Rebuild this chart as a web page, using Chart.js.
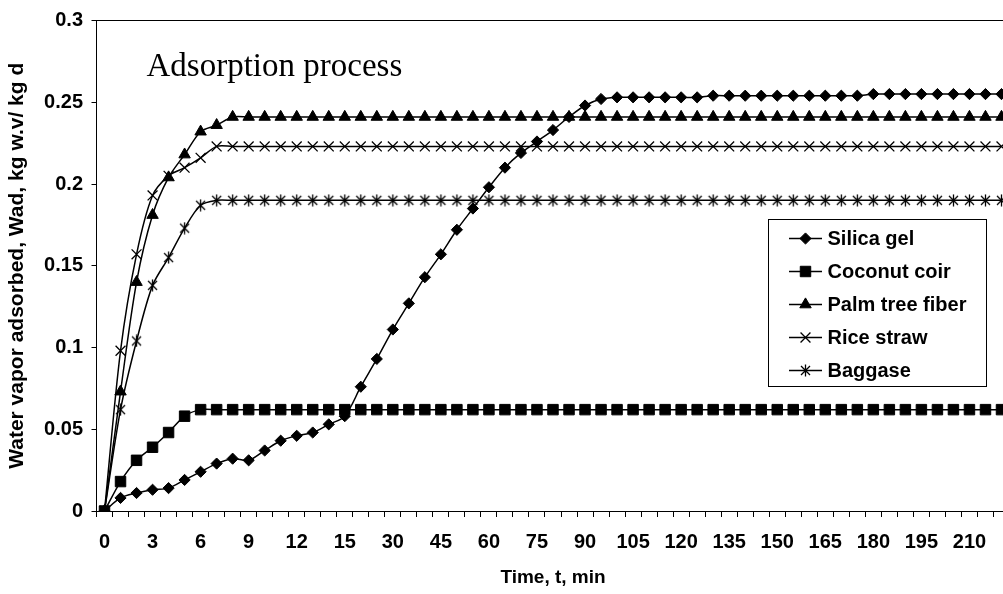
<!DOCTYPE html>
<html>
<head>
<meta charset="utf-8">
<title>Adsorption process</title>
<script src="https://cdn.jsdelivr.net/npm/chart.js@4.4.1/dist/chart.umd.min.js"></script>
<style>
  html, body { margin: 0; padding: 0; background: #fff; overflow: hidden; }
  #wrap { width: 1020px; height: 594px; }
  canvas { display: block; }
</style>
</head>
<body>
<div id="wrap"><canvas id="chart" width="1020" height="594"></canvas></div>
<script>
// Sampling times, min (every minute up to 15, then every 5 minutes)
const times = [
  0, 1, 2, 3, 4, 5, 6, 7, 8, 9, 10, 11, 12, 13, 14, 15,
  20, 25, 30, 35, 40, 45, 50, 55, 60, 65, 70, 75, 80, 85, 90, 95,
  100, 105, 110, 115, 120, 125, 130, 135, 140, 145, 150, 155, 160,
  165, 170, 175, 180, 185, 190, 195, 200, 205, 210, 215, 220
];

// Water vapor adsorbed, kg w.v / kg d
const silicaGel = [
  0, 0.008, 0.011, 0.013, 0.014, 0.019, 0.024, 0.029, 0.032, 0.031, 0.037, 0.043, 0.046, 0.048, 0.053, 0.058,
  0.076, 0.093, 0.111, 0.127, 0.143, 0.157, 0.172, 0.185, 0.198, 0.210, 0.219, 0.226, 0.233, 0.241, 0.248, 0.252,
  0.253, 0.253, 0.253, 0.253, 0.253, 0.253, 0.254, 0.254, 0.254, 0.254, 0.254, 0.254, 0.254,
  0.254, 0.254, 0.254, 0.255, 0.255, 0.255, 0.255, 0.255, 0.255, 0.255, 0.255, 0.255
];
const coconutCoir = [
  0, 0.018, 0.031, 0.039, 0.048, 0.058, 0.062, 0.062, 0.062, 0.062, 0.062, 0.062, 0.062, 0.062, 0.062, 0.062,
  0.062, 0.062, 0.062, 0.062, 0.062, 0.062, 0.062, 0.062, 0.062, 0.062, 0.062, 0.062, 0.062, 0.062, 0.062, 0.062,
  0.062, 0.062, 0.062, 0.062, 0.062, 0.062, 0.062, 0.062, 0.062, 0.062, 0.062, 0.062, 0.062,
  0.062, 0.062, 0.062, 0.062, 0.062, 0.062, 0.062, 0.062, 0.062, 0.062, 0.062, 0.062
];
const palmTreeFiber = [
  0, 0.073, 0.140, 0.181, 0.204, 0.218, 0.232, 0.236, 0.241, 0.241, 0.241, 0.241, 0.241, 0.241, 0.241, 0.241,
  0.241, 0.241, 0.241, 0.241, 0.241, 0.241, 0.241, 0.241, 0.241, 0.241, 0.241, 0.241, 0.241, 0.241, 0.241, 0.241,
  0.241, 0.241, 0.241, 0.241, 0.241, 0.241, 0.241, 0.241, 0.241, 0.241, 0.241, 0.241, 0.241,
  0.241, 0.241, 0.241, 0.241, 0.241, 0.241, 0.241, 0.241, 0.241, 0.241, 0.241, 0.241
];
const riceStraw = [
  0, 0.098, 0.157, 0.193, 0.205, 0.210, 0.216, 0.223, 0.223, 0.223, 0.223, 0.223, 0.223, 0.223, 0.223, 0.223,
  0.223, 0.223, 0.223, 0.223, 0.223, 0.223, 0.223, 0.223, 0.223, 0.223, 0.223, 0.223, 0.223, 0.223, 0.223, 0.223,
  0.223, 0.223, 0.223, 0.223, 0.223, 0.223, 0.223, 0.223, 0.223, 0.223, 0.223, 0.223, 0.223,
  0.223, 0.223, 0.223, 0.223, 0.223, 0.223, 0.223, 0.223, 0.223, 0.223, 0.223, 0.223
];
const baggase = [
  0, 0.062, 0.104, 0.138, 0.155, 0.173, 0.187, 0.190, 0.190, 0.190, 0.190, 0.190, 0.190, 0.190, 0.190, 0.190,
  0.190, 0.190, 0.190, 0.190, 0.190, 0.190, 0.190, 0.190, 0.190, 0.190, 0.190, 0.190, 0.190, 0.190, 0.190, 0.190,
  0.190, 0.190, 0.190, 0.190, 0.190, 0.190, 0.190, 0.190, 0.190, 0.190, 0.190, 0.190, 0.190,
  0.190, 0.190, 0.190, 0.190, 0.190, 0.190, 0.190, 0.190, 0.190, 0.190, 0.190, 0.190
];

const seriesNames = ['Silica gel', 'Coconut coir', 'Palm tree fiber', 'Rice straw', 'Baggase'];
const yTickLabels = ['0', '0.05', '0.1', '0.15', '0.2', '0.25', '0.3'];
const xLabelEvery = 3;

const chartTitle = 'Adsorption process';
const xAxisTitle = 'Time, t, min';
const yAxisTitle = 'Water vapor adsorbed, Wad, kg w.v/ kg d';

const SANS = '"Liberation Sans", Arial, sans-serif';
const SERIF = '"Liberation Serif", "Times New Roman", serif';

// Six-armed asterisk marker (X plus a vertical bar)
function asteriskMarker() {
  const c = document.createElement('canvas');
  c.width = 13; c.height = 13;
  const g = c.getContext('2d');
  g.strokeStyle = '#000';
  g.lineWidth = 1.3;
  g.beginPath();
  g.moveTo(2, 2); g.lineTo(11, 11);
  g.moveTo(11, 2); g.lineTo(2, 11);
  g.moveTo(6.5, 0.5); g.lineTo(6.5, 12.5);
  g.stroke();
  return c;
}

const markerStyles = [
  { pointStyle: 'rectRot', radius: 5.6, borderWidth: 1 },
  { pointStyle: 'rect', radius: 7.4, borderWidth: 1 },
  { pointStyle: 'triangle', radius: 6.6, borderWidth: 1 },
  { pointStyle: 'crossRot', radius: 7, borderWidth: 1.3 },
  { pointStyle: asteriskMarker(), radius: 6, borderWidth: 1 }
];

const seriesValues = [silicaGel, coconutCoir, palmTreeFiber, riceStraw, baggase];

const datasets = seriesValues.map((vals, i) => ({
  label: seriesNames[i],
  data: vals,
  borderColor: '#000',
  backgroundColor: '#000',
  borderWidth: 1.5,
  tension: 0.3,
  fill: false,
  pointStyle: markerStyles[i].pointStyle,
  pointRadius: markerStyles[i].radius,
  pointBorderWidth: markerStyles[i].borderWidth,
  pointBackgroundColor: '#000',
  pointBorderColor: '#000'
}));

// Outline of the plot area (top and right edges)
const plotFrame = {
  id: 'plotFrame',
  afterDraw(chart) {
    const { ctx, chartArea: a } = chart;
    ctx.save();
    ctx.strokeStyle = '#000';
    ctx.lineWidth = 1;
    const l = Math.floor(a.left) + 0.5, t = Math.floor(a.top) + 0.5;
    const r = Math.floor(a.right) + 0.5, b = Math.floor(a.bottom) + 0.5;
    ctx.beginPath();
    ctx.moveTo(l, t); ctx.lineTo(r, t); ctx.lineTo(r, b);
    ctx.stroke();
    ctx.restore();
  }
};

// Caption inside the plot area
const plotCaption = {
  id: 'plotCaption',
  afterDraw(chart) {
    const { ctx, chartArea: a } = chart;
    ctx.save();
    ctx.fillStyle = '#000';
    ctx.font = '33px ' + SERIF;
    ctx.textBaseline = 'alphabetic';
    ctx.textAlign = 'left';
    ctx.fillText(chartTitle, a.left + 50, a.top + 55);
    ctx.restore();
  }
};

// Boxed legend placed inside the plot area
const boxedLegend = {
  id: 'boxedLegend',
  afterDraw(chart) {
    const { ctx } = chart;
    const box = { x: 768.5, y: 219.5, w: 218, h: 167 };
    const rowY0 = 238.5, rowGap = 33;
    ctx.save();
    ctx.fillStyle = '#fff';
    ctx.fillRect(box.x, box.y, box.w, box.h);
    ctx.strokeStyle = '#000';
    ctx.lineWidth = 1;
    ctx.strokeRect(box.x, box.y, box.w, box.h);
    chart.data.datasets.forEach((ds, i) => {
      const y = rowY0 + i * rowGap;
      ctx.strokeStyle = '#000';
      ctx.lineWidth = 1.5;
      ctx.beginPath();
      ctx.moveTo(789, y); ctx.lineTo(822, y);
      ctx.stroke();
      ctx.fillStyle = '#000';
      ctx.strokeStyle = '#000';
      ctx.lineWidth = ds.pointBorderWidth;
      Chart.helpers.drawPoint(ctx, {
        pointStyle: ds.pointStyle,
        radius: ds.pointRadius,
        borderWidth: ds.pointBorderWidth,
        rotation: 0
      }, 805.5, y);
      ctx.fillStyle = '#000';
      ctx.font = 'bold 20px ' + SANS;
      ctx.textBaseline = 'middle';
      ctx.textAlign = 'left';
      ctx.fillText(ds.label, 827.5, y + 0.5);
    });
    ctx.restore();
  }
};

Chart.defaults.color = '#000';
Chart.defaults.font.family = SANS;

new Chart(document.getElementById('chart'), {
  type: 'line',
  data: { labels: times, datasets },
  plugins: [plotFrame, plotCaption, boxedLegend],
  options: {
    responsive: false,
    animation: false,
    devicePixelRatio: 1,
    layout: { padding: { top: 15, right: 10.5, bottom: 0, left: 0 } },
    plugins: {
      legend: { display: false },
      title: { display: false },
      tooltip: { enabled: false }
    },
    scales: {
      x: {
        type: 'category',
        offset: true,
        afterFit(scale) { scale.height = 83; },
        border: { display: true, color: '#000', width: 1 },
        grid: {
          offset: true,
          drawOnChartArea: false,
          drawTicks: true,
          tickLength: 6,
          color: '#000',
          tickColor: '#000',
          lineWidth: 1
        },
        ticks: {
          autoSkip: false,
          maxRotation: 0,
          minRotation: 0,
          padding: 13,
          color: '#000',
          font: { size: 20, weight: 'bold', family: SANS },
          callback(value, index) {
            return index % xLabelEvery === 0 ? String(times[index]) : '';
          }
        },
        title: {
          display: true,
          text: xAxisTitle,
          color: '#000',
          font: { size: 19, weight: 'bold', family: SANS },
          padding: { top: 0, bottom: 4.5 }
        }
      },
      y: {
        min: 0,
        max: 0.3,
        afterFit(scale) { scale.width = 96.5; },
        border: { display: true, color: '#000', width: 1 },
        grid: {
          drawOnChartArea: false,
          drawTicks: true,
          tickLength: 5,
          color: '#000',
          tickColor: '#000',
          lineWidth: 1
        },
        ticks: {
          stepSize: 0.05,
          padding: 8.5,
          color: '#000',
          font: { size: 20, weight: 'bold', family: SANS },
          callback(value) {
            return yTickLabels[Math.round(value / 0.05)];
          }
        },
        title: {
          display: true,
          text: yAxisTitle,
          color: '#000',
          font: { size: 21, weight: 'bold', family: SANS },
          padding: { top: 5, bottom: 0 }
        }
      }
    }
  }
});
</script>
</body>
</html>
